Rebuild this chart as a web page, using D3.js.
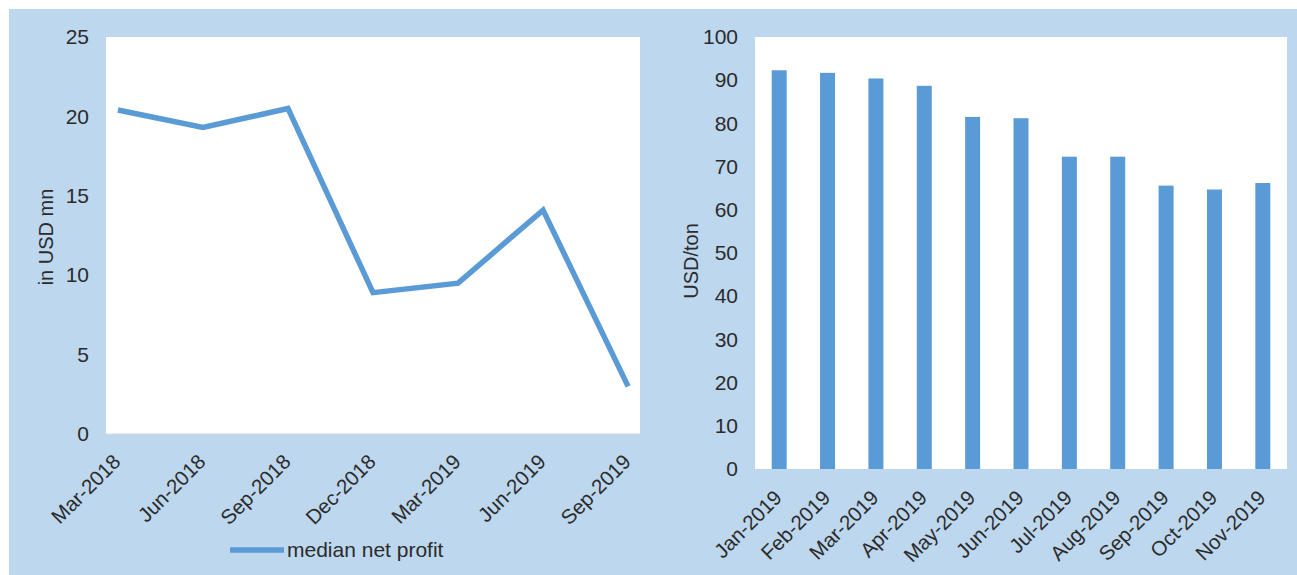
<!DOCTYPE html>
<html>
<head>
<meta charset="utf-8">
<script src="https://cdn.jsdelivr.net/npm/d3@7"></script>
<style>
  html, body { margin: 0; padding: 0; background: #fff; }
  svg { display: block; font-family: "Liberation Sans", Arial, sans-serif; }
</style>
</head>
<body>
<svg id="chart" width="1297" height="575"></svg>
<script>
// left chart: median net profit
const profitCats = ['Mar-2018', 'Jun-2018', 'Sep-2018', 'Dec-2018', 'Mar-2019', 'Jun-2019', 'Sep-2019']
const profitVals = [20.4, 19.3, 20.5, 8.9, 9.5, 14.1, 3.0]
const profitTicks = [0, 5, 10, 15, 20, 25]

// right chart: price per month
const priceCats = ['Jan-2019', 'Feb-2019', 'Mar-2019', 'Apr-2019', 'May-2019', 'Jun-2019', 'Jul-2019', 'Aug-2019', 'Sep-2019', 'Oct-2019', 'Nov-2019']
const priceVals = [92.3, 91.7, 90.4, 88.7, 81.5, 81.2, 72.3, 72.3, 65.6, 64.7, 66.2]
const priceTicks = [0, 10, 20, 30, 40, 50, 60, 70, 80, 90, 100]

const blue = '#5B9BD5'
const bg = '#BDD7EE'
const ink = '#2b2b2b'

const svg = d3.select('#chart')

// panel background
svg.append('rect')
  .attr('x', 9).attr('y', 9)
  .attr('width', 1297 - 9).attr('height', 575 - 9)
  .attr('fill', bg)

// ---------- left: line chart ----------
const L = { left: 106, right: 640, top: 37, bottom: 434 }

svg.append('rect')
  .attr('x', L.left).attr('y', L.top)
  .attr('width', L.right - L.left).attr('height', L.bottom - L.top)
  .attr('fill', '#fff')

const xL = d3.scalePoint().domain(profitCats).range([L.left, L.right]).padding(0.14)
const yL = d3.scaleLinear().domain([0, 25]).range([L.bottom, L.top])

svg.append('line')
  .attr('x1', L.left).attr('x2', L.right)
  .attr('y1', L.bottom).attr('y2', L.bottom)
  .attr('stroke', '#d9d9d9')

const axisL = svg.append('g')
  .attr('transform', 'translate(' + (L.left - 17) + ',0)')
  .call(d3.axisLeft(yL).tickValues(profitTicks).tickSize(0).tickPadding(0))
axisL.select('.domain').remove()
axisL.selectAll('text')
  .attr('font-size', 21).attr('fill', ink).attr('font-family', null)

const line = d3.line()
  .x((d, i) => xL(profitCats[i]))
  .y(d => yL(d))

svg.append('path')
  .datum(profitVals)
  .attr('d', line)
  .attr('fill', 'none')
  .attr('stroke', blue)
  .attr('stroke-width', 5.5)
  .attr('stroke-linejoin', 'miter')

svg.append('g').selectAll('text')
  .data(profitCats)
  .enter().append('text')
  .attr('transform', d => 'translate(' + (xL(d) + 4) + ',' + 463 + ')rotate(-45)')
  .attr('text-anchor', 'end')
  .attr('font-size', 20.5)
  .attr('fill', ink)
  .text(d => d)

svg.append('text')
  .attr('transform', 'translate(53,237)rotate(-90)')
  .attr('text-anchor', 'middle')
  .attr('font-size', 20)
  .attr('fill', ink)
  .text('in USD mn')

// legend
svg.append('line')
  .attr('x1', 230).attr('x2', 284)
  .attr('y1', 550).attr('y2', 550)
  .attr('stroke', blue).attr('stroke-width', 5.5)

svg.append('text')
  .attr('x', 287).attr('y', 557)
  .attr('font-size', 21)
  .attr('fill', ink)
  .text('median net profit')

// ---------- right: bar chart ----------
const R = { left: 755, right: 1287, top: 37, bottom: 469 }

svg.append('rect')
  .attr('x', R.left).attr('y', R.top)
  .attr('width', R.right - R.left).attr('height', R.bottom - R.top)
  .attr('fill', '#fff')

const xR = d3.scaleBand().domain(priceCats).range([R.left, R.right])
const yR = d3.scaleLinear().domain([0, 100]).range([R.bottom, R.top])
const barW = xR.bandwidth() * 0.31

svg.append('g').selectAll('rect')
  .data(priceVals)
  .enter().append('rect')
  .attr('x', (d, i) => xR(priceCats[i]) + (xR.bandwidth() - barW) / 2)
  .attr('y', d => yR(d))
  .attr('width', barW)
  .attr('height', d => yR(0) - yR(d))
  .attr('fill', blue)

const axisR = svg.append('g')
  .attr('transform', 'translate(' + (R.left - 17) + ',0)')
  .call(d3.axisLeft(yR).tickValues(priceTicks).tickSize(0).tickPadding(0))
axisR.select('.domain').remove()
axisR.selectAll('text')
  .attr('font-size', 21).attr('fill', ink).attr('font-family', null)

svg.append('g').selectAll('text')
  .data(priceCats)
  .enter().append('text')
  .attr('transform', d => 'translate(' + (xR(d) + xR.bandwidth() / 2 + 4) + ',' + 499 + ')rotate(-45)')
  .attr('text-anchor', 'end')
  .attr('font-size', 20.5)
  .attr('fill', ink)
  .text(d => d)

svg.append('text')
  .attr('transform', 'translate(698,261)rotate(-90)')
  .attr('text-anchor', 'middle')
  .attr('font-size', 20)
  .attr('fill', ink)
  .text('USD/ton')
</script>
</body>
</html>
